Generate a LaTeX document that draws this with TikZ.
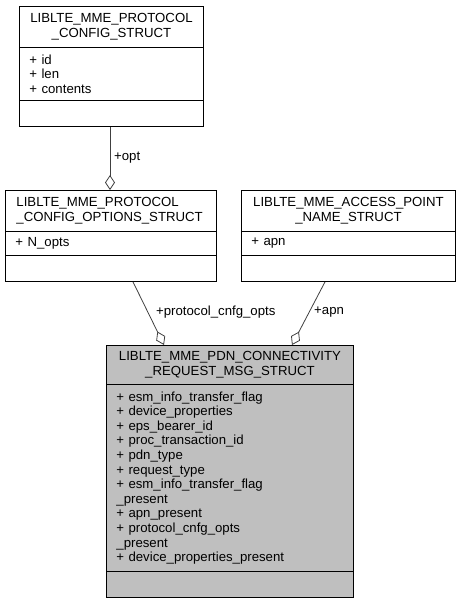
\documentclass[tikz,border=0pt]{standalone}
\usepackage{fontspec}
\setmainfont{Liberation Sans}
\usetikzlibrary{arrows.meta,calc}
\begin{document}
\begin{tikzpicture}[x=1pt,y=-1pt,
  cell/.style={draw=black, line width=0.9pt, anchor=north west, inner ysep=0pt,
    font=\fontsize{13.2}{14.6}\selectfont},
  titlecell/.style 2 args={cell, minimum width=#1, minimum height=#2, text width=#1, inner xsep=0pt, align=center},
  listcell/.style 2 args={cell, minimum width=#1, minimum height=#2, text width=#1-20pt, inner xsep=10pt, align=left},
  conn/.style={draw=black!75, line width=0.8pt, -{Diamond[open, length=15pt, width=10pt, line width=0.8pt]}},
  lbl/.style={anchor=west, inner sep=0pt, font=\fontsize{13.2}{14.6}\selectfont}
]
\useasboundingbox (0,0) rectangle (461,603);

% Box 1
\node[titlecell={184pt}{41pt}] (b1t) at (19,6) {LIBLTE\_MME\_PROTOCOL\\\_CONFIG\_STRUCT};
\node[listcell={184pt}{53pt}] (b1a) at (19,47) {+ id\\+ len\\+ contents};
\node[listcell={184pt}{26pt}] (b1m) at (19,100) {};

% Box 2
\node[listcell={211pt}{41pt}, inner xsep=11pt, text width=189pt] (b2t) at (5,190) {LIBLTE\_MME\_PROTOCOL\\\_CONFIG\_OPTIONS\_STRUCT};
\node[listcell={211pt}{24pt}] (b2a) at (5,231) {+ N\_opts};
\node[listcell={211pt}{26pt}] (b2m) at (5,255) {};

% Box 3
\node[titlecell={214pt}{41pt}] (b3t) at (241,190) {LIBLTE\_MME\_ACCESS\_POINT\\\_NAME\_STRUCT};
\node[listcell={214pt}{24pt}] (b3a) at (241,231) {+ apn};
\node[listcell={214pt}{26pt}] (b3m) at (241,255) {};

% Box 4
\node[titlecell={247pt}{39pt}, fill=black!25] (b4t) at (106,345) {LIBLTE\_MME\_PDN\_CONNECTIVITY\\\_REQUEST\_MSG\_STRUCT};
\node[listcell={247pt}{187pt}, fill=black!25] (b4a) at (106,384) {+ esm\_info\_transfer\_flag\\+ device\_properties\\+ eps\_bearer\_id\\+ proc\_transaction\_id\\+ pdn\_type\\+ request\_type\\+ esm\_info\_transfer\_flag\\\_present\\+ apn\_present\\+ protocol\_cnfg\_opts\\\_present\\+ device\_properties\_present};
\node[listcell={247pt}{26pt}, fill=black!25] (b4m) at (106,571) {};

% Connectors
\draw[conn] ($(b1m.south west)+(91,0)$) -- ($(b2t.north west)+(105,0)$);
\draw[conn] ($(b2m.south west)+(128,0)$) -- ($(b4t.north west)+(58,0)$);
\draw[conn] ($(b3m.south west)+(84,0)$) -- ($(b4t.north west)+(186,0)$);

% Labels
\node[lbl] (l1) at (114,158) {+opt};
\node[lbl] (l2) at (156,312) {+protocol\_cnfg\_opts};
\node[lbl] (l3) at (314,312) {+apn};
\end{tikzpicture}
\end{document}
